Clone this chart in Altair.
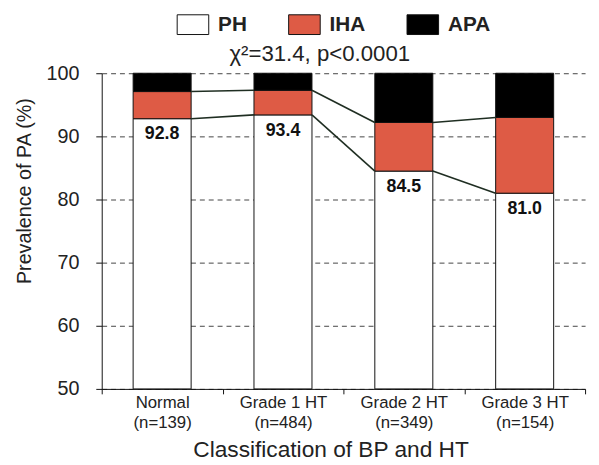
import altair as alt
import pandas as pd

categories = ["Normal", "Grade 1 HT", "Grade 2 HT", "Grade 3 HT"]
n_values = [139, 484, 349, 154]
ph_values = [92.8, 93.4, 84.5, 81.0]
iha_tops = [97.1, 97.3, 92.2, 93.0]
apa_tops = [100.0, 100.0, 100.0, 100.0]
types = ["PH", "IHA", "APA"]
colors = ["#ffffff", "#de5b45", "#000000"]
y_min = 50
bar_frac = 0.48

labels = [f"{c}|(n={n})" for c, n in zip(categories, n_values)]

rows = []
for lab, p, i, a in zip(labels, ph_values, iha_tops, apa_tops):
    rows.append({"cat": lab, "type": "PH", "y0": y_min, "y1": p})
    rows.append({"cat": lab, "type": "IHA", "y0": p, "y1": i})
    rows.append({"cat": lab, "type": "APA", "y0": i, "y1": a})
bars_df = pd.DataFrame(rows)

seg_rows = []
for k in range(len(categories) - 1):
    for name, arr in (("ph", ph_values), ("iha", iha_tops)):
        seg = f"{name}{k}"
        seg_rows.append({"seg": seg, "xq": k + 0.5 + bar_frac / 2, "v": arr[k]})
        seg_rows.append({"seg": seg, "xq": k + 1.5 - bar_frac / 2, "v": arr[k + 1]})
seg_df = pd.DataFrame(seg_rows)

text_df = pd.DataFrame({"cat": labels, "v": ph_values,
                        "t": [f"{v:.1f}" for v in ph_values]})

yscale = alt.Scale(domain=[50, 100], nice=False, zero=False)
xscale = alt.Scale(paddingInner=0, paddingOuter=0, range=[0, 490])

bars = alt.Chart(bars_df).mark_bar(
    width=alt.RelativeBandSize(bar_frac), stroke="#111", strokeWidth=1
).encode(
    x=alt.X("cat:N", sort=labels, scale=xscale,
            axis=alt.Axis(title="Classification of BP and HT", labelAngle=0,
                          labelExpr="split(datum.label, '|')",
                          tickBand="extent", labelFontSize=17,
                          labelLineHeight=20, labelPadding=1, titlePadding=9,
                          titleFontSize=23, titleX=232)),
    y=alt.Y("y0:Q", scale=yscale,
            axis=alt.Axis(title="Prevalence of PA (%)", values=[50, 60, 70, 80, 90, 100],
                          labelFontSize=20, labelPadding=17, titlePadding=12,
                          titleFontSize=20, titleY=119)),
    y2="y1:Q",
    color=alt.Color("type:N", scale=alt.Scale(domain=types, range=colors),
                    legend=alt.Legend(title=None, orient="none", direction="horizontal",
                                      legendX=82, legendY=-60,
                                      symbolType="M-1.6,-1H1.6V1H-1.6Z",
                                      symbolSize=400, symbolStrokeColor="#111",
                                      symbolStrokeWidth=1, symbolOpacity=1,
                                      labelFontSize=21, labelFontWeight="bold",
                                      labelColor="#222", columnPadding=39,
                                      labelOffset=15)),
)

lines = alt.Chart(seg_df).mark_line(color="#1f2e22", strokeWidth=1.6).encode(
    x=alt.X("xq:Q", scale=alt.Scale(domain=[0, 4], nice=False, zero=False,
                                    range=[0, 490]), axis=None),
    y=alt.Y("v:Q", scale=yscale),
    detail="seg:N",
)

texts = alt.Chart(text_df).mark_text(
    fontSize=18, fontWeight="bold", baseline="top", dy=7, color="#111"
).encode(
    x=alt.X("cat:N", sort=labels, scale=xscale, axis=None),
    y=alt.Y("v:Q", scale=yscale),
    text="t:N",
)

chart = alt.layer(bars, texts, lines).resolve_scale(x="independent").properties(
    width=496, height=320,
    padding={"left": 6, "top": 3, "right": 0, "bottom": 0},
    title=alt.Title("χ²=31.4, p<0.0001", fontSize=22.5, fontWeight="normal",
                    color="#222", offset=0, dy=52, dx=-27, font="Liberation Sans"),
).configure_axis(
    domainColor="#111", tickColor="#111", labelColor="#222", titleColor="#222",
    labelFont="Liberation Sans", titleFont="Liberation Sans",
    titleFontWeight="normal", gridColor="#444", gridDash=[5, 4], gridWidth=1,
    tickSize=6,
).configure_axisX(grid=False, tickSize=5).configure_legend(
    labelFont="Liberation Sans"
).configure_view(stroke=None).configure_text(font="Liberation Sans")

chart.save("out.html", embed_options={"renderer": "svg", "actions": False})
